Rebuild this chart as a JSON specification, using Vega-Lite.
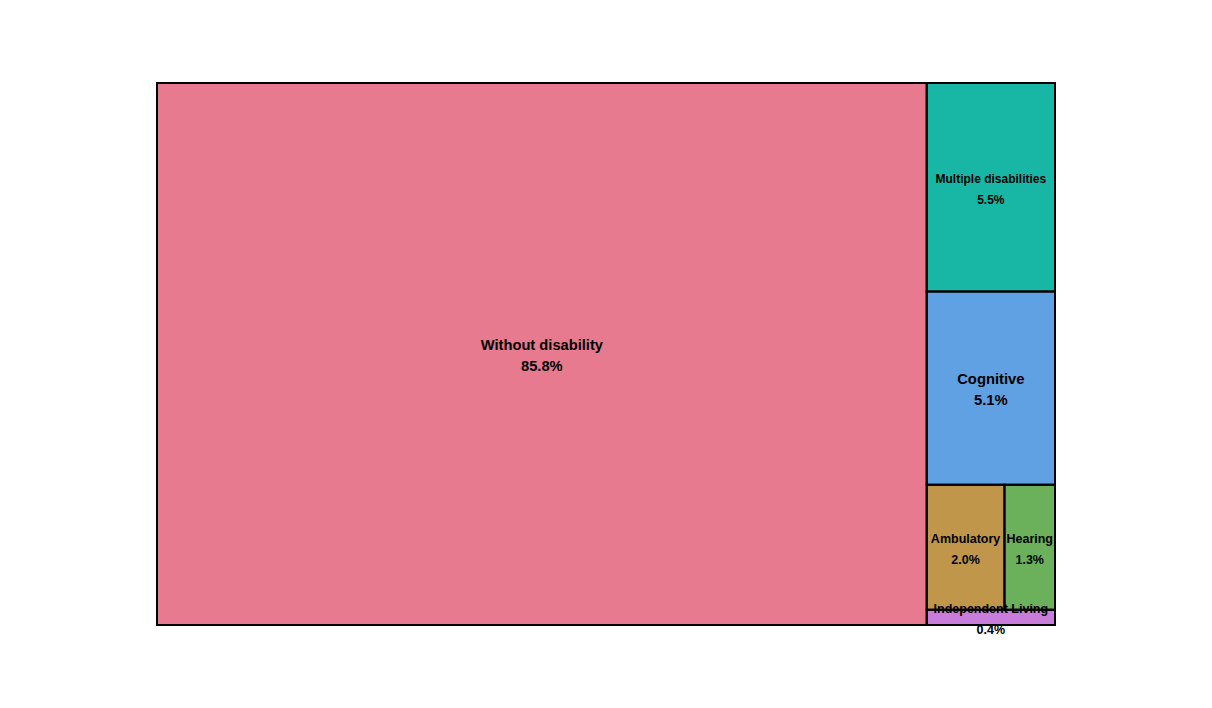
{
  "$schema": "https://vega.github.io/schema/vega-lite/v6.json",
  "width": 898,
  "height": 542,
  "autosize": {"type": "none"},
  "padding": {"left": 157, "top": 83, "right": 157, "bottom": 83},
  "background": "white",
  "config": {"view": {"stroke": null}},
  "data": {
    "values": [
      {"name": "Without disability", "value": 85.8, "col": 1, "row": 1, "item": 1},
      {"name": "Multiple disabilities", "value": 5.5, "col": 2, "row": 1, "item": 1},
      {"name": "Cognitive", "value": 5.1, "col": 2, "row": 2, "item": 1},
      {"name": "Ambulatory", "value": 2.0, "col": 2, "row": 3, "item": 1},
      {"name": "Hearing", "value": 1.3, "col": 2, "row": 3, "item": 2},
      {"name": "Independent Living", "value": 0.4, "col": 2, "row": 4, "item": 1}
    ]
  },
  "transform": [
    {"joinaggregate": [{"op": "sum", "field": "value", "as": "colSum"}], "groupby": ["col"]},
    {"joinaggregate": [{"op": "sum", "field": "value", "as": "rowSum"}], "groupby": ["col", "row"]},
    {"window": [{"op": "sum", "field": "value", "as": "colEnd"}], "sort": [{"field": "col"}], "frame": [null, 0], "ignorePeers": false},
    {"window": [{"op": "sum", "field": "value", "as": "rowEnd"}], "groupby": ["col"], "sort": [{"field": "row"}], "frame": [null, 0], "ignorePeers": false},
    {"window": [{"op": "sum", "field": "value", "as": "itemEnd"}], "groupby": ["col", "row"], "sort": [{"field": "item"}], "frame": [null, 0], "ignorePeers": false},
    {"calculate": "datum.colEnd - datum.colSum", "as": "colStart"},
    {"calculate": "datum.colStart + datum.colSum * (datum.itemEnd - datum.value) / datum.rowSum", "as": "x0"},
    {"calculate": "datum.colStart + datum.colSum * datum.itemEnd / datum.rowSum", "as": "x1"},
    {"calculate": "(datum.rowEnd - datum.rowSum) / datum.colSum", "as": "y0"},
    {"calculate": "datum.rowEnd / datum.colSum", "as": "y1"},
    {"calculate": "(datum.x0 + datum.x1) / 2", "as": "xm"},
    {"calculate": "(datum.y0 + datum.y1) / 2", "as": "ym"},
    {"calculate": "datum.name + '\\n' + format(datum.value, '.1f') + '%'", "as": "label"}
  ],
  "layer": [
    {
      "mark": {"type": "rect", "strokeWidth": 0},
      "encoding": {
        "x": {"field": "x0", "type": "quantitative", "axis": null, "scale": {"nice": false, "zero": true}},
        "x2": {"field": "x1"},
        "y": {"field": "y0", "type": "quantitative", "axis": null, "scale": {"nice": false, "zero": true, "reverse": true}},
        "y2": {"field": "y1"},
        "color": {
          "field": "name",
          "type": "nominal",
          "legend": null,
          "scale": {
            "domain": ["Without disability", "Multiple disabilities", "Cognitive", "Ambulatory", "Hearing", "Independent Living"],
            "range": ["#e77a8f", "#17b6a5", "#5fa1e2", "#c0964b", "#6bb05a", "#c87ddb"]
          }
        }
      }
    },
    {
      "mark": {"type": "text", "font": "Liberation Sans", "fontWeight": "bold", "align": "center", "baseline": "middle", "lineBreak": "\n", "lineHeight": 20.5, "dy": -8, "color": "#000000"},
      "encoding": {
        "x": {"field": "xm", "type": "quantitative"},
        "y": {"field": "ym", "type": "quantitative"},
        "text": {"field": "label"},
        "size": {
          "field": "name",
          "type": "nominal",
          "legend": null,
          "scale": {
            "type": "ordinal",
            "domain": ["Without disability", "Multiple disabilities", "Cognitive", "Ambulatory", "Hearing", "Independent Living"],
            "range": [14.7, 12, 14.8, 12.5, 12.5, 12.5]
          }
        }
      }
    },
    {
      "mark": {"type": "rect", "fillOpacity": 0, "stroke": "#000000", "strokeWidth": 2},
      "encoding": {
        "x": {"field": "x0", "type": "quantitative"},
        "x2": {"field": "x1"},
        "y": {"field": "y0", "type": "quantitative"},
        "y2": {"field": "y1"}
      }
    }
  ]
}
